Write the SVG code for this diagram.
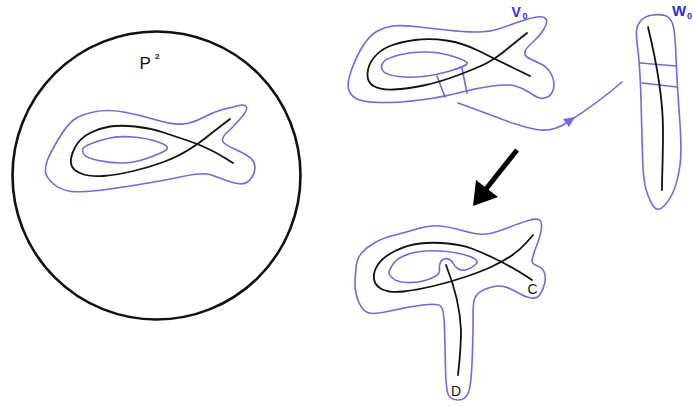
<svg xmlns="http://www.w3.org/2000/svg" width="693" height="407" viewBox="0 0 693 407">
<style>
.b{fill:none;stroke:#7468e0;stroke-width:1.6;stroke-linejoin:round;stroke-linecap:round}
.k{fill:none;stroke:#111;stroke-width:1.8;stroke-linecap:round;stroke-linejoin:round}
.t{font-family:"Liberation Sans",Arial,sans-serif;fill:#111}
.tb{font-family:"Liberation Sans",Arial,sans-serif;fill:#2e2ee0;font-weight:bold}
</style>
<rect width="693" height="407" fill="#fff"/>
<g id="plane">
<circle cx="156.5" cy="175.5" r="144" fill="none" stroke="#111" stroke-width="2.6"/>
<text class="t" x="139.5" y="69" font-size="17">P</text>
<text class="t" x="155" y="59" font-size="8" font-weight="bold">2</text>
</g>
<g id="fish-left">
<path class="b" d="M45.5,172 Q45,167 47.5,160 Q50,153 58.5,139 Q67,125 73.5,120 Q80,115 93.5,112 Q107,109 123.5,112 Q140,115 156.5,120 Q173,125 183,124 Q193,123 203,117.5 Q213,112 223,109.5 Q233,107 239,105.5 Q245,104 246.5,107 Q248,110 240.5,118.5 Q233,127 227.5,132 Q222,137 222.5,140.5 Q223,144 235.5,149.5 Q248,155 252,159.5 Q256,164 254.5,171 Q253,178 247.5,182 Q242,186 229.5,181.5 Q217,177 210,174.5 Q203,172 180,177 Q157,182 120,187.5 Q83,193 71.5,191.5 Q60,190 53,183.5 Q46,177 45.5,172 Z"/>
<path class="b" d="M82.5,149.5 Q83,147 91.5,143.5 Q100,140 110,138 Q120,136 133.5,137 Q147,138 159.5,142.5 Q172,147 164.5,151 Q157,155 145,159 Q133,163 121.5,163 Q110,163 98.5,160.5 Q87,158 84.5,155 Q82,152 82.5,149.5 Z"/>
<path class="k" d="M230,119 L221.5,125.5 Q213,132 205.5,138 Q198,144 187.5,150.5 Q177,157 163.5,162 Q150,167 133.5,171 Q117,175 103.5,176 Q90,177 81,173.5 Q72,170 71,163.5 Q70,157 75,147.5 Q80,138 90,133 Q100,128 110,126.5 Q120,125 135,126.5 Q150,128 163.5,132.5 Q177,137 187.5,140.5 Q198,144 207.5,148.5 Q217,153 225,158 L233,163"/>
</g>
<g id="V0">
<path class="b" d="M348.5,88.5 Q347,82 352,68.5 Q357,55 363.5,45 Q370,35 377.5,31 Q385,27 392.5,26 Q400,25 415,26.5 Q430,28 446.5,30 Q463,32 476.5,32 Q490,32 500,28.5 Q510,25 520,21.5 Q530,18 537,17 Q544,16 546,19 Q548,22 544,29 Q540,36 533,42 Q526,48 525,51.5 Q524,55 527,57 Q530,59 539,63 Q548,67 551.5,74.5 Q555,82 553.5,88.5 Q552,95 547.5,97 Q543,99 539.5,98 Q536,97 529.5,92.5 Q523,88 515,86 Q507,84 492,86 Q477,88 460,92.5 Q443,97 420,100 Q397,103 379.5,102.5 Q362,102 356,98.5 Q350,95 348.5,88.5 Z"/>
<path class="b" d="M381.5,66 Q382,63 385,60.5 Q388,58 399,55 Q410,52 425,52 Q440,52 455,57 Q470,62 466.5,64.5 Q463,67 450,71 Q437,75 423.5,76.5 Q410,78 398.5,76.5 Q387,75 384,72 Q381,69 381.5,66 Z"/>
<path class="b" d="M437,76 L445,97 M462,68 L467,93"/>
<path class="k" d="M527,33 L519.5,39 Q512,45 503.5,52 Q495,59 486,63.5 Q477,68 458.5,75 Q440,82 423.5,85.5 Q407,89 393.5,89.5 Q380,90 373.5,86 Q367,82 367.5,73.5 Q368,65 374,57.5 Q380,50 390,46 Q400,42 415,40 Q430,38 446.5,40.5 Q463,43 479,51 Q495,59 512.5,67.5 L530,76"/>
<text class="tb" x="511.5" y="17" font-size="14">V</text>
<text class="tb" x="522.5" y="19" font-size="9">0</text>
</g>
<g id="W0">
<path class="b" d="M636.5,30 Q637,25 641,20.5 Q645,16 652.5,15 Q660,14 665,15.5 Q670,17 672.5,23.5 Q675,30 676,56.5 Q677,83 679.5,116.5 Q682,150 680,165 Q678,180 674,190 Q670,200 664,206 Q658,212 654,207 Q650,202 646.5,191 Q643,180 642.5,156.5 Q642,133 641,100 Q640,67 638,51 Q636,35 636.5,30 Z"/>
<path class="b" d="M640,63 L676,66 M642,83 L677,87"/>
<path class="k" d="M648,27 C656,60 663,100 663,130 C663,160 662,175 662,190"/>
<text class="tb" x="672" y="16" font-size="15">W</text>
<text class="tb" x="687" y="19" font-size="9">0</text>
</g>
<g id="result">
<path class="b" d="M355,285 Q355,277 356,267.5 Q357,258 362,252.5 Q367,247 375,242.5 Q383,238 395,235 Q407,232 418.5,228.5 Q430,225 440,226 Q450,227 458.5,229.5 Q467,232 475,233.5 Q483,235 490,233.5 Q497,232 508.5,227.5 Q520,223 528.5,220.5 Q537,218 539.5,220 Q542,222 541.5,228 Q541,234 536.5,246 Q532,258 532,261 Q532,264 537.5,266 Q543,268 544.5,273 Q546,278 544.5,284 Q543,290 540,294.5 Q537,299 531,298 Q525,297 517.5,292.5 Q510,288 503.5,286.5 Q497,285 488.5,288 Q480,291 477,294.5 Q474,298 473.5,304 Q473,310 473,325 Q473,340 472,363.5 Q471,387 468,393.5 Q465,400 458,400 Q451,400 448.5,395 Q446,390 445.5,368.5 Q445,347 444.5,328.5 Q444,310 441,306.5 Q438,303 422.5,305 Q407,307 390,311 Q373,315 367.5,312.5 Q362,310 358.5,301.5 Q355,293 355,285 Z"/>
<path class="b" d="M389,272.5 Q389,270 393.5,263.5 Q398,257 410.5,253.5 Q423,250 440,251 Q457,252 468.5,256 Q480,260 476,264 Q472,268 467,269.5 Q462,271 458.5,269 Q455,267 453.5,264 Q452,261 449.5,259.5 Q447,258 444,259 Q441,260 440,263.5 Q439,267 439.5,270 Q440,273 436.5,275.5 Q433,278 425,280.5 Q417,283 407,282.5 Q397,282 393,278.5 Q389,275 389,272.5 Z"/>
<path class="k" d="M533,235 L526.5,242.5 Q520,250 511,256 Q502,262 491,267 Q480,272 465,277 Q450,282 433.5,286 Q417,290 403.5,291.5 Q390,293 382.5,289.5 Q375,286 374,279 Q373,272 378,264.5 Q383,257 395,251 Q407,245 420,243.5 Q433,242 448,243.5 Q463,245 473,249 Q483,253 492.5,257.5 Q502,262 511,267 Q520,272 526,276 L532,280"/>
<path class="k" d="M446,265 C452,280 460,305 461,330 C461,350 459,365 458,375" stroke-width="1.5"/>
<text class="t" x="527.5" y="293.5" font-size="14">C</text>
<text class="t" x="451" y="395.5" font-size="14">D</text>
</g>
<g id="connectors">
<path class="b" d="M458,103 C490,114 520,128 540,130 C552,131 560,127 568,122 C585,111 605,97 622,82"/>
<polygon points="575,117 563,119 569,127" fill="#7468e0"/>
<line x1="517" y1="150" x2="486" y2="189" stroke="#000" stroke-width="5"/>
<polygon points="473,206 476,180 498,197" fill="#000"/>
</g>
</svg>
